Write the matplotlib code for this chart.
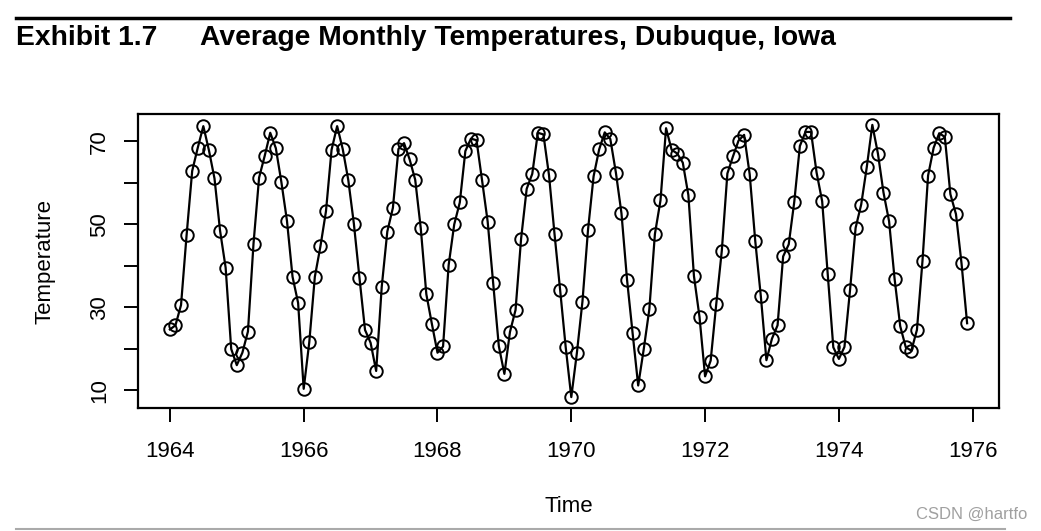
import numpy as np
import matplotlib
matplotlib.use('Agg')
import matplotlib.pyplot as plt
from matplotlib.lines import Line2D

# tempdub: average monthly temperatures, Dubuque, Iowa, 1964-1975
temp_1964 = [24.7, 25.7, 30.6, 47.5, 62.9, 68.5, 73.7, 67.9, 61.1, 48.5, 39.6, 20.0]
temp_1965 = [16.1, 19.1, 24.2, 45.4, 61.3, 66.5, 72.1, 68.4, 60.2, 50.9, 37.4, 31.1]
temp_1966 = [10.4, 21.6, 37.4, 44.7, 53.2, 68.0, 73.7, 68.2, 60.7, 50.2, 37.2, 24.6]
temp_1967 = [21.5, 14.7, 35.0, 48.3, 54.0, 68.2, 69.6, 65.7, 60.8, 49.1, 33.2, 26.0]
temp_1968 = [19.1, 20.6, 40.2, 50.0, 55.3, 67.7, 70.7, 70.3, 60.6, 50.7, 35.8, 20.7]
temp_1969 = [14.0, 24.1, 29.4, 46.6, 58.6, 62.2, 72.1, 71.7, 61.9, 47.6, 34.2, 20.4]
temp_1970 = [8.4, 19.0, 31.4, 48.7, 61.6, 68.1, 72.2, 70.6, 62.5, 52.7, 36.7, 23.8]
temp_1971 = [11.2, 20.0, 29.6, 47.7, 55.8, 73.2, 68.0, 67.1, 64.9, 57.1, 37.6, 27.7]
temp_1972 = [13.4, 17.2, 30.8, 43.7, 62.3, 66.4, 70.2, 71.6, 62.1, 46.0, 32.7, 17.3]
temp_1973 = [22.5, 25.7, 42.3, 45.2, 55.5, 68.9, 72.3, 72.3, 62.5, 55.6, 38.0, 20.4]
temp_1974 = [17.6, 20.5, 34.2, 49.2, 54.8, 63.8, 74.0, 67.1, 57.7, 50.8, 36.8, 25.5]
temp_1975 = [20.4, 19.6, 24.6, 41.3, 61.8, 68.5, 72.0, 71.1, 57.3, 52.5, 40.6, 26.2]
start_year = 1964
x_ticks = [1964, 1966, 1968, 1970, 1972, 1974, 1976]
y_ticks = [10, 20, 30, 40, 50, 60, 70]
y_labels = ['10', '', '30', '', '50', '', '70']

temps = np.array(temp_1964 + temp_1965 + temp_1966 + temp_1967 + temp_1968 + temp_1969 +
                 temp_1970 + temp_1971 + temp_1972 + temp_1973 + temp_1974 + temp_1975)
t = start_year + np.arange(len(temps)) / 12.

plt.rcParams['font.family'] = ['Liberation Sans', 'DejaVu Sans']

fig = plt.figure(figsize=(10.41, 5.31), dpi=100)
ax = fig.add_axes([138/1041, 1-408/531, (999-138)/1041, (408-114)/531])

ax.plot(t, temps, '-', color='black', lw=1.6)
ax.plot(t, temps, 'o', mfc='none', mec='black', mew=1.4, ms=9)

# R style 4% expansion
xr = t.max() - t.min()
yr = temps.max() - temps.min()
ax.set_xlim(t.min() - 0.04*xr, t.max() + 0.04*xr)
ax.set_ylim(temps.min() - 0.04*yr, temps.max() + 0.04*yr)

ax.set_xticks(x_ticks)
ax.set_xticklabels([str(x) for x in x_ticks])
ax.set_yticks(y_ticks)
ax.set_yticklabels(y_labels, rotation=90, va='center')
ax.tick_params(axis='both', length=10, width=1.4, labelsize=16, color='black')
ax.tick_params(axis='x', pad=14)
ax.tick_params(axis='y', pad=10)
for s in ax.spines.values():
    s.set_linewidth(1.6)

ax.set_xlabel('Time', fontsize=16, labelpad=24)
ax.set_ylabel('Temperature', fontsize=16, labelpad=24)

# header
fig.add_artist(Line2D([16/1041, 1010/1041], [1-18/531, 1-18/531], color='black', lw=2.5))
fig.text(16/1041, 1-38/531, 'Exhibit 1.7', fontsize=20.3, fontweight='bold', va='center')
fig.text(200/1041, 1-38/531, 'Average Monthly Temperatures, Dubuque, Iowa', fontsize=20.3,
         fontweight='bold', va='center')
fig.add_artist(Line2D([16/1041, 1005/1041], [1-529/531, 1-529/531], color='#aaaaaa', lw=1.5))
fig.text(1027/1041, 1-514/531, 'CSDN @hartfo', fontsize=12, color='#a0a0a0', ha='right', va='center')

fig.savefig('out.png', dpi=100)
